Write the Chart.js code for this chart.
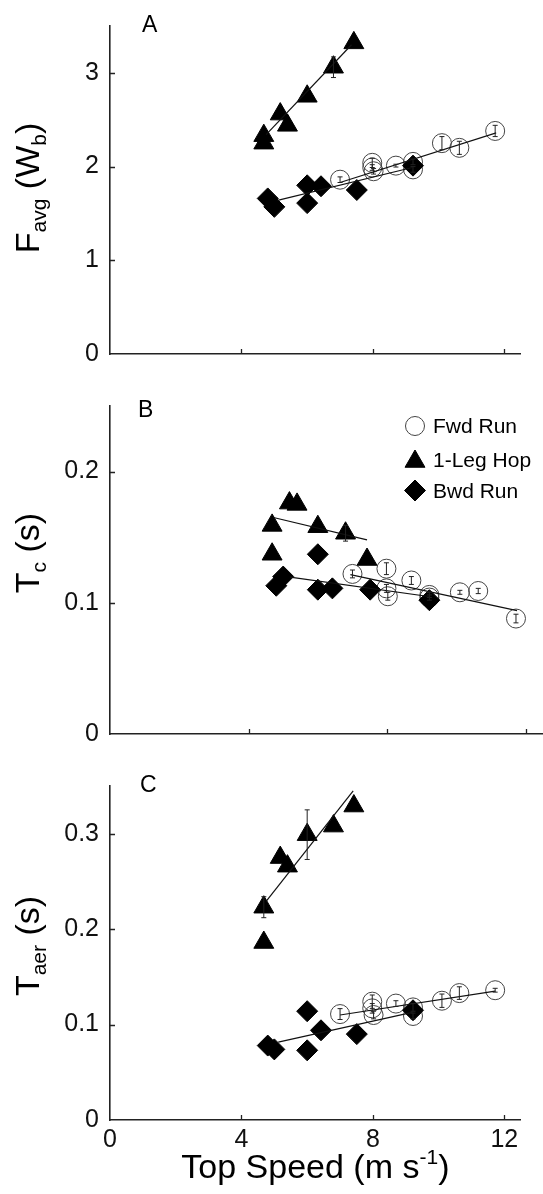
<!DOCTYPE html>
<html>
<head>
<meta charset="utf-8">
<title>Top speed vs Favg, Tc, Taer</title>
<script src="https://cdn.jsdelivr.net/npm/chart.js@4.4.0/dist/chart.umd.min.js"></script>
<style>
  html, body { margin: 0; padding: 0; background: #fff; }
  #wrap { position: relative; width: 543px; height: 1194px; overflow: hidden; }
  .panel { position: absolute; left: 0; width: 543px; }
  #panelA { top: 0; height: 380px; }
  #panelB { top: 380px; height: 380px; }
  #panelC { top: 760px; height: 434px; }
  canvas { display: block; }
</style>
</head>
<body>
<div id="wrap">
  <div class="panel" id="panelA"><canvas id="chartA" width="543" height="380"></canvas></div>
  <div class="panel" id="panelB"><canvas id="chartB" width="543" height="380"></canvas></div>
  <div class="panel" id="panelC"><canvas id="chartC" width="543" height="434"></canvas></div>
</div>
<script>
// ── Data ───────────────────────────────────────────────────────────────
const seriesNames = ['Fwd Run', '1-Leg Hop', 'Bwd Run'];

const xTicks = [0, 4, 8, 12];
const xMax = 12.5;

// top speeds (m/s) for each subject / condition
const fwdSpeed = [7.0, 7.98, 7.98, 8.02, 8.7, 9.22, 9.22, 10.1, 10.63, 11.72];
const hopSpeed = [4.68, 4.68, 5.18, 5.4, 6.0, 6.8, 7.42];
const bwdSpeed = [4.8, 5.0, 6.0, 6.0, 6.42, 7.51, 9.22];

// Panel A: Favg (Wb)
const favgTicks = [0, 1, 2, 3];
const favgMax = 3.5;
const fwdFavg    = [1.86, 2.04, 1.99, 1.95, 2.01, 2.05, 1.97, 2.25, 2.20, 2.38];
const fwdFavgErr = [0.03, 0.05, 0.03, 0.03, 0.015, 0.03, 0.03, 0.07, 0.07, 0.06];
const hopFavg    = [2.33, 2.25, 2.56, 2.44, 2.75, 3.06, 3.32];
const hopFavgErr = [0, 0, 0, 0, 0, 0.11, 0];
const bwdFavg    = [1.66, 1.57, 1.80, 1.61, 1.79, 1.75, 2.01];
const fwdFavgFitX = [7.0, 11.75],  fwdFavgFitY = [1.83, 2.36];
const hopFavgFitX = [4.75, 7.35],  hopFavgFitY = [2.34, 3.30];
const bwdFavgFitX = [5.1, 9.2],    bwdFavgFitY = [1.64, 1.99];

// Panel B: Tc (s)
const tcTicks = [0, 0.1, 0.2];
const tcMax = 0.25;
const fwdTc    = [0.122, 0.126, 0.111, 0.105, 0.117, 0.106, 0.104, 0.108, 0.109, 0.088];
const fwdTcErr = [0.003, 0.0045, 0.003, 0.003, 0.003, 0.002, 0.002, 0.0015, 0.002, 0.0033];
const hopTc    = [0.159, 0.137, 0.176, 0.175, 0.158, 0.153, 0.133];
const hopTcErr = [0, 0, 0, 0, 0, 0.006, 0];
const bwdTc    = [0.113, 0.120, 0.137, 0.110, 0.111, 0.110, 0.102];
const fwdTcFitX = [6.94, 11.75], fwdTcFitY = [0.1215, 0.094];
const hopTcFitX = [4.72, 7.42],  hopTcFitY = [0.165, 0.148];
const bwdTcFitX = [5.2, 9.25],   bwdTcFitY = [0.1195, 0.1046];

// Panel C: Taer (s)
const taerTicks = [0, 0.1, 0.2, 0.3];
const taerMax = 0.35;
const fwdTaer    = [0.111, 0.124, 0.117, 0.110, 0.122, 0.118, 0.109, 0.125, 0.133, 0.136];
const fwdTaerErr = [0.0057, 0.007, 0.005, 0.004, 0.003, 0.004, 0.003, 0.007, 0.0066, 0.002];
const hopTaer    = [0.223, 0.186, 0.275, 0.266, 0.299, 0.308, 0.329];
const hopTaerErr = [0.011, 0, 0, 0, 0.026, 0, 0];
const bwdTaer    = [0.078, 0.074, 0.114, 0.073, 0.094, 0.090, 0.115];
const fwdTaerFitX = [7.0, 11.72], fwdTaerFitY = [0.110, 0.135];
const hopTaerFitX = [4.75, 7.4],  hopTaerFitY = [0.229, 0.345];
const bwdTaerFitX = [5.12, 9.23], bwdTaerFitY = [0.0816, 0.113];

// ── Styles ────────────────────────────────────────────────────────────
const FONT = "'Liberation Sans', Arial, Helvetica, sans-serif";
const AXIS_COLOR = '#222';

const markerStyle = {
  'Fwd Run':   { pointStyle: 'circle',   radius: 9.5,  bg: 'rgba(0,0,0,0)', border: '#444', bw: 1 },
  '1-Leg Hop': { pointStyle: 'triangle', radius: 11.5, bg: '#000',          border: '#000', bw: 1 },
  'Bwd Run':   { pointStyle: 'rectRot',  radius: 10.5, bg: '#000',          border: '#000', bw: 1 },
};

const toPoints = (xs, ys) => xs.map((x, i) => ({ x, y: ys[i] }));

function markerDataset(name, xs, ys, errs, order) {
  const m = markerStyle[name];
  return {
    label: name,
    data: toPoints(xs, ys),
    errors: errs || null,
    pointStyle: m.pointStyle,
    pointRadius: m.radius,
    pointHoverRadius: m.radius,
    backgroundColor: m.bg,
    borderColor: m.border,
    borderWidth: m.bw,
    showLine: false,
    clip: false,
    order,
  };
}

function fitDataset(xs, ys) {
  return {
    label: 'fit',
    data: toPoints(xs, ys),
    showLine: true,
    pointRadius: 0,
    borderColor: '#111',
    borderWidth: 1.2,
    fill: false,
    clip: false,
    order: 0,
  };
}

// ── Rich text helper (subscripts / superscripts) ───────────────────────
function drawRich(ctx, parts, size, cx, cy, rotate) {
  const subSize = Math.round(size * 0.62);
  const fontFor = p => (p[1] ? subSize : size) + 'px ' + FONT;
  let total = 0;
  parts.forEach(p => { ctx.font = fontFor(p); total += ctx.measureText(p[0]).width; });
  ctx.save();
  ctx.translate(cx, cy);
  if (rotate) ctx.rotate(-Math.PI / 2);
  ctx.fillStyle = '#000';
  ctx.textBaseline = 'alphabetic';
  ctx.textAlign = 'left';
  let x = -total / 2;
  parts.forEach(p => {
    ctx.font = fontFor(p);
    const dy = p[1] === 1 ? size * 0.22 : p[1] === -1 ? -size * 0.42 : 0;
    ctx.fillText(p[0], x, dy);
    x += ctx.measureText(p[0]).width;
  });
  ctx.restore();
}

function drawMarker(ctx, name, x, y) {
  const m = markerStyle[name];
  ctx.save();
  ctx.fillStyle = m.bg;
  ctx.strokeStyle = m.border;
  ctx.lineWidth = m.bw;
  Chart.helpers.drawPoint(ctx, { pointStyle: m.pointStyle, radius: m.radius, borderWidth: m.bw, rotation: 0 }, x, y);
  ctx.restore();
}

// ── Decorations: inward ticks, error bars, titles, panel letter, legend ─
function makeDecor(cfg) {
  return {
    id: 'decor' + cfg.letter,
    afterDatasetsDraw(chart) {
      const ctx = chart.ctx;
      const ys = chart.scales.y;
      chart.data.datasets.forEach((ds, i) => {
        if (!ds.errors) return;
        const meta = chart.getDatasetMeta(i);
        ctx.save();
        ctx.strokeStyle = '#222';
        ctx.lineWidth = 1;
        meta.data.forEach((pt, j) => {
          const e = ds.errors[j];
          if (!e) return;
          const v = ds.data[j].y;
          const top = ys.getPixelForValue(v + e);
          const bot = ys.getPixelForValue(v - e);
          ctx.beginPath();
          ctx.moveTo(pt.x, top); ctx.lineTo(pt.x, bot);
          ctx.moveTo(pt.x - 2.5, top); ctx.lineTo(pt.x + 2.5, top);
          ctx.moveTo(pt.x - 2.5, bot); ctx.lineTo(pt.x + 2.5, bot);
          ctx.stroke();
        });
        ctx.restore();
      });
    },
    afterDraw(chart) {
      const ctx = chart.ctx;
      const { x: xs, y: ys } = chart.scales;
      const area = chart.chartArea;

      // inward tick marks
      ctx.save();
      ctx.strokeStyle = AXIS_COLOR;
      ctx.lineWidth = 1.3;
      ctx.beginPath();
      xTicks.filter(v => v !== 0).forEach(v => {
        const px = Math.round(xs.getPixelForValue(v)) + 0.5;
        ctx.moveTo(px, area.bottom); ctx.lineTo(px, area.bottom - 5);
      });
      cfg.yTicks.filter(v => v !== 0).forEach(v => {
        const py = Math.round(ys.getPixelForValue(v)) + 0.5;
        ctx.moveTo(area.left, py); ctx.lineTo(area.left + 5, py);
      });
      ctx.stroke();
      ctx.restore();

      // y title
      drawRich(ctx, cfg.yTitle, 34, cfg.yTitleX, cfg.yTitleY, true);

      // x title
      if (cfg.xTitle) {
        drawRich(ctx, cfg.xTitle, 34, (area.left + area.right) / 2, cfg.xTitleY, false);
      }

      // panel letter
      ctx.save();
      ctx.fillStyle = '#000';
      ctx.font = '23px ' + FONT;
      ctx.textBaseline = 'alphabetic';
      ctx.fillText(cfg.letter, cfg.letterX, cfg.letterY);
      ctx.restore();

      // legend
      if (cfg.legend) {
        const rows = [46, 81.5, 110.5];
        const base = [53.3, 86.7, 118.3];
        seriesNames.forEach((name, i) => {
          drawMarker(ctx, name, 415, rows[i]);
          ctx.save();
          ctx.fillStyle = '#000';
          ctx.font = '21px ' + FONT;
          ctx.textBaseline = 'alphabetic';
          ctx.fillText(name, 433, base[i]);
          ctx.restore();
        });
      }
    },
  };
}

// ── Panel factory ─────────────────────────────────────────────────────
function makePanel(canvasId, cfg) {
  const ctx = document.getElementById(canvasId);
  new Chart(ctx, {
    type: 'scatter',
    data: { datasets: cfg.datasets },
    options: {
      responsive: false,
      animation: false,
      events: [],
      layout: { padding: cfg.padding, autoPadding: false },
      plugins: { legend: { display: false }, tooltip: { enabled: false } },
      scales: {
        x: {
          type: 'linear',
          min: 0,
          max: xMax,
          afterBuildTicks: s => { s.ticks = xTicks.map(v => ({ value: v })); },
          afterFit: s => { s.height = cfg.xHeight; },
          grid: { display: false, drawTicks: false },
          border: { display: true, color: AXIS_COLOR, width: 1.6 },
          ticks: {
            display: cfg.showXLabels,
            padding: 5,
            color: '#111',
            maxRotation: 0,
            font: { family: FONT, size: 25 },
          },
        },
        y: {
          type: 'linear',
          min: 0,
          max: cfg.yMax,
          afterBuildTicks: s => { s.ticks = cfg.yTicks.map(v => ({ value: v })); },
          afterFit: s => { s.width = 110; },
          grid: { display: false, drawTicks: false },
          border: { display: true, color: AXIS_COLOR, width: 1.6 },
          ticks: {
            padding: 11,
            color: '#111',
            font: { family: FONT, size: 25 },
            callback: v => String(v),
          },
        },
      },
    },
    plugins: [makeDecor(cfg)],
  });
}

document.addEventListener('DOMContentLoaded', function () {

  // ── Panel A: average force ───────────────────────────────────────────
  makePanel('chartA', {
    letter: 'A', letterX: 142, letterY: 31.7,
    yMax: favgMax, yTicks: favgTicks,
    yTitle: [['F', 0], ['avg', 1], [' (W', 0], ['b', 1], [')', 0]],
    yTitleX: 39, yTitleY: 188,
    padding: { top: 24, bottom: 19.3, left: 0, right: 22.2 },
    xHeight: 0, showXLabels: false,
    datasets: [
      fitDataset(fwdFavgFitX, fwdFavgFitY),
      fitDataset(hopFavgFitX, hopFavgFitY),
      fitDataset(bwdFavgFitX, bwdFavgFitY),
      markerDataset('Bwd Run', bwdSpeed, bwdFavg, null, 1),
      markerDataset('1-Leg Hop', hopSpeed, hopFavg, hopFavgErr, 2),
      markerDataset('Fwd Run', fwdSpeed, fwdFavg, fwdFavgErr, 3),
    ],
  });

  // ── Panel B: contact time ────────────────────────────────────────────
  makePanel('chartB', {
    letter: 'B', letterX: 138, letterY: 36.5,
    yMax: tcMax, yTicks: tcTicks,
    yTitle: [['T', 0], ['c', 1], [' (s)', 0]],
    yTitleX: 39, yTitleY: 173,
    padding: { top: 25, bottom: 19.3, left: 0, right: 0 },
    xHeight: 0, showXLabels: false,
    legend: true,
    datasets: [
      fitDataset(fwdTcFitX, fwdTcFitY),
      fitDataset(hopTcFitX, hopTcFitY),
      fitDataset(bwdTcFitX, bwdTcFitY),
      markerDataset('Bwd Run', bwdSpeed, bwdTc, null, 1),
      markerDataset('1-Leg Hop', hopSpeed, hopTc, hopTcErr, 2),
      markerDataset('Fwd Run', fwdSpeed, fwdTc, fwdTcErr, 3),
    ],
  });

  // ── Panel C: aerial time ─────────────────────────────────────────────
  makePanel('chartC', {
    letter: 'C', letterX: 140, letterY: 31.7,
    yMax: taerMax, yTicks: taerTicks,
    yTitle: [['T', 0], ['aer', 1], [' (s)', 0]],
    yTitleX: 39, yTitleY: 186,
    xTitle: [['Top Speed (m s', 0], ['-1', -1], [')', 0]],
    xTitleY: 418,
    padding: { top: 24, bottom: 0, left: 0, right: 22.2 },
    xHeight: 74, showXLabels: true,
    datasets: [
      fitDataset(fwdTaerFitX, fwdTaerFitY),
      fitDataset(hopTaerFitX, hopTaerFitY),
      fitDataset(bwdTaerFitX, bwdTaerFitY),
      markerDataset('Bwd Run', bwdSpeed, bwdTaer, null, 1),
      markerDataset('1-Leg Hop', hopSpeed, hopTaer, hopTaerErr, 2),
      markerDataset('Fwd Run', fwdSpeed, fwdTaer, fwdTaerErr, 3),
    ],
  });

});
</script>
</body>
</html>
